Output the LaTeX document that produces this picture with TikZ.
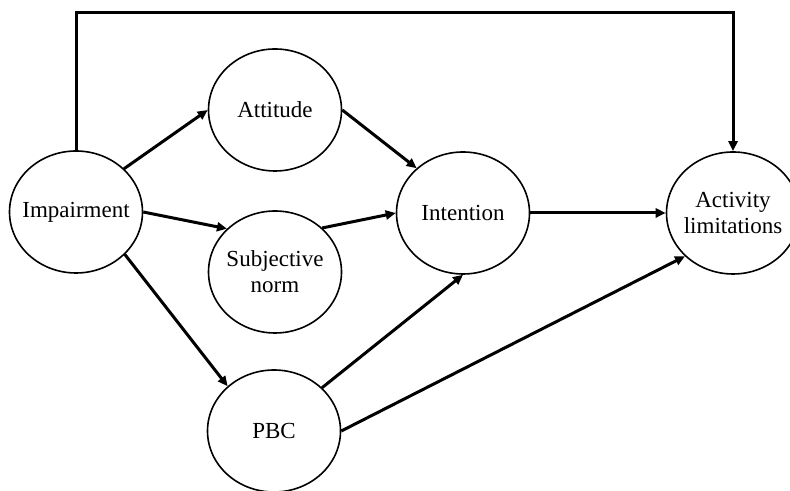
\documentclass[tikz,border=0pt]{standalone}
\usepackage{fontspec}
\setmainfont{Liberation Serif}
\usetikzlibrary{shapes.geometric,arrows.meta}

\begin{document}
\begin{tikzpicture}[x=0.5pt,y=0.5pt]
      \tikzset{
        factor/.style={ellipse,draw,line width=0.8pt,inner xsep=-4pt,inner ysep=0pt,minimum width=66.5pt,minimum height=61pt,align=center,font=\fontsize{11.5}{13}\selectfont},
        link/.style={line width=1.5pt,-{Triangle[length=5pt,width=4.5pt]}}
      }
      \useasboundingbox (0,0) rectangle (790,491);

      \node[factor] (imp) at (76,279) {Impairment};
      \node[factor] (att) at (275,381) {Attitude};
      \node[factor] (subj) at (275,219) {Subjective\\norm};
      \node[factor] (int) at (463,278) {Intention};
      \node[factor] (act) at (733,278) {Activity\\limitations};
      \node[factor] (pbc) at (274,60) {PBC};
      \coordinate (top) at (400,478);

      \draw (imp.42) edge[link] (att.west)
            (imp.east) edge[link] (subj.138)
            (imp.-41) edge[link] (pbc.136)
            (att.east) edge[link] (int.136)
            (subj.43) edge[link] (int.west)
            (pbc.42) edge[link] (int.south)
            (pbc.east) edge[link] (act.222)
            (int.east) edge[link] (act.west);
      \draw[link] (imp.north) |- (top) -| (act.north);
    \end{tikzpicture}
\end{document}
